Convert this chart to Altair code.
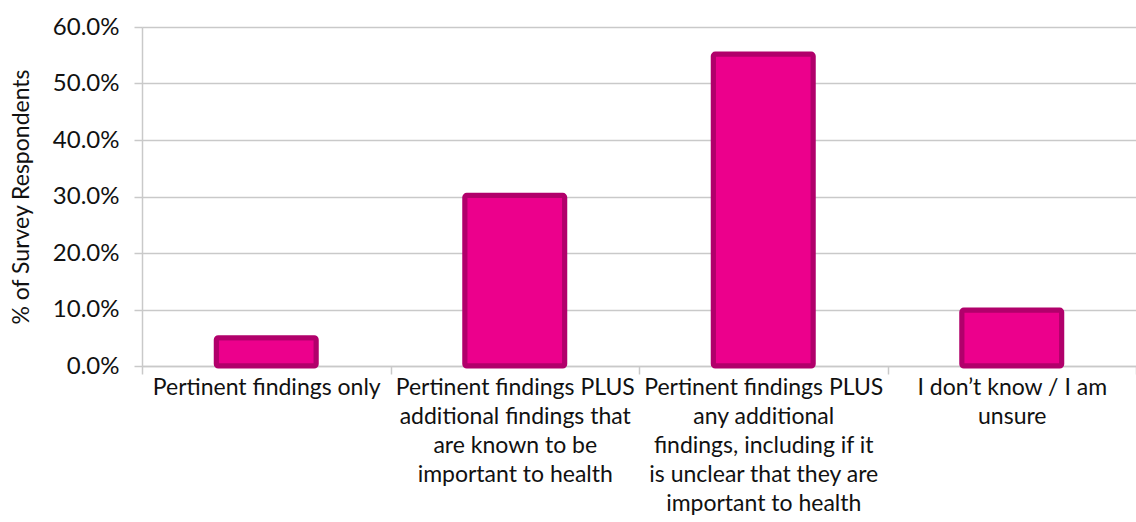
import altair as alt
import pandas as pd

# Survey answers (line breaks mark how each axis label wraps)
categories = [
    "Pertinent findings only",
    "Pertinent findings PLUS\nadditional findings that\nare known to be\nimportant to health",
    "Pertinent findings PLUS\nany additional\nfindings, including if it\nis unclear that they are\nimportant to health",
    "I don\u2019t know / I am\nunsure",
]
shares = [0.050, 0.302, 0.552, 0.099]

df = pd.DataFrame({"answer": categories, "share": shares})

FONT = "Lato"
GRID = "#c9c9c9"
INK = "#111111"

bars = (
    alt.Chart(df)
    .mark_bar(
        size=100,
        color="#EC008C",
        stroke="#B1006B",
        strokeWidth=5,
        cornerRadius=2,
    )
    .encode(
        x=alt.X(
            "answer:N",
            sort=categories,
            title=None,
            scale=alt.Scale(paddingInner=0, paddingOuter=0),
            axis=alt.Axis(
                labelAngle=0,
                labelExpr="split(datum.label, '\\n')",
                labelFont=FONT,
                labelFontSize=23,
                labelColor=INK,
                labelLineHeight=29,
                labelBaseline="top",
                labelPadding=2,
                labelLimit=0,
                domainColor=GRID,
                domainWidth=1.5,
                tickColor=GRID,
                tickWidth=1.5,
                tickSize=8,
                tickBand="extent",
                grid=False,
            ),
        ),
        y=alt.Y(
            "share:Q",
            title="% of Survey Respondents",
            scale=alt.Scale(domain=[0, 0.6], nice=False),
            axis=alt.Axis(
                values=[0, 0.1, 0.2, 0.3, 0.4, 0.5, 0.6],
                format=".1%",
                labelFont=FONT,
                labelFontSize=24,
                labelColor=INK,
                labelPadding=15,
                titleFont=FONT,
                titleFontSize=23,
                titleFontWeight="normal",
                titleColor=INK,
                titlePadding=19,
                domainColor=GRID,
                domainWidth=1.5,
                tickColor=GRID,
                tickWidth=1.5,
                tickSize=8,
                gridColor=GRID,
                gridWidth=1.5,
            ),
        ),
    )
)

chart = (
    bars.properties(
        width=994,
        height=339,
        autosize=alt.AutoSizeParams(type="none"),
        padding={"left": 142, "top": 27, "right": 0, "bottom": 150},
    )
    .configure_view(stroke=None)
    .configure(background="white")
)

chart.save("out.html", embed_options={"renderer": "svg", "actions": False})
